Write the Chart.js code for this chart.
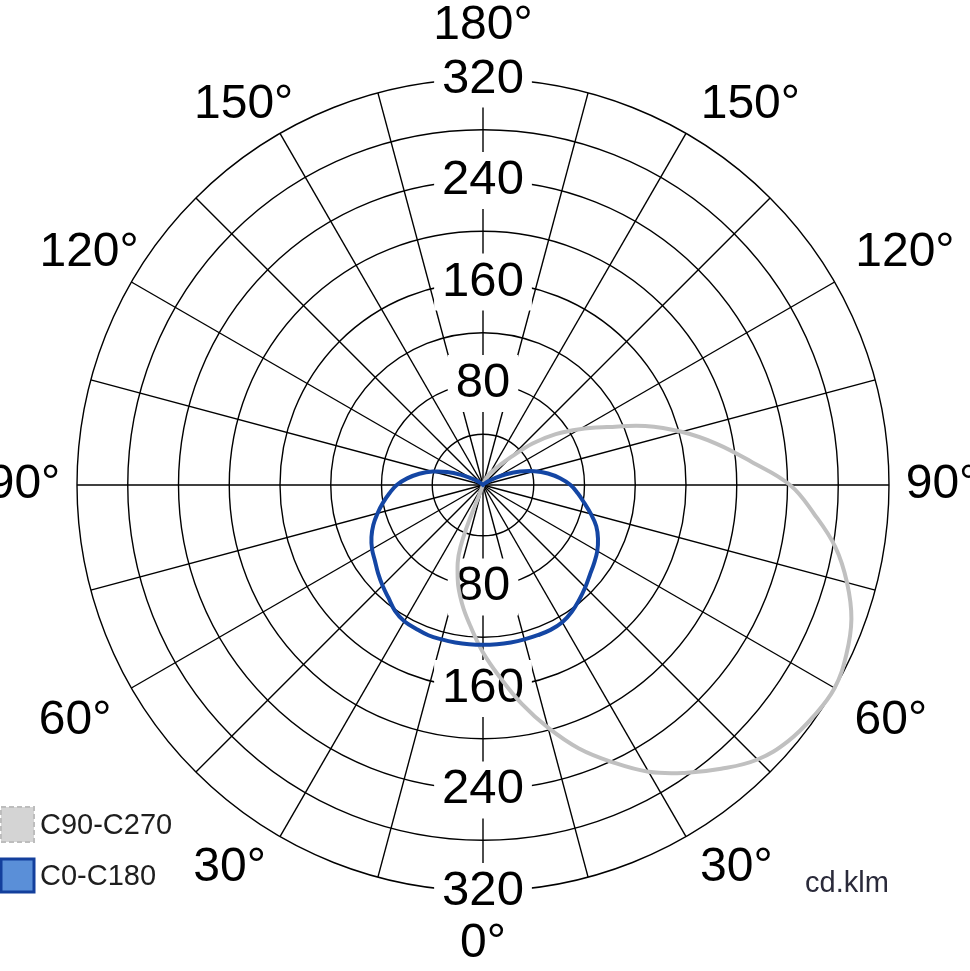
<!DOCTYPE html>
<html>
<head>
<meta charset="utf-8">
<title>Polar intensity diagram</title>
<script src="https://cdn.jsdelivr.net/npm/chart.js@4.4.1/dist/chart.umd.min.js"></script>
<style>
  html, body { margin: 0; padding: 0; background: #fff; }
  #polar { display: block; }
</style>
</head>
<body>
<canvas id="polar" width="970" height="971"></canvas>
<script>
// gamma angle (0 = straight down, 180 = straight up), 5 degree steps
var GAMMA = [0, 5, 10, 15, 20, 25, 30, 35, 40, 45, 50, 55, 60, 65, 70, 75, 80, 85, 90,
             95, 100, 105, 110, 115, 120, 125, 130, 135, 140, 145, 150, 155, 160, 165, 170, 175, 180];

// cd/klm, right half of the diagram
var C0 = [126, 126, 126, 126, 126, 126, 125, 122, 118, 114, 110, 107, 104, 100, 95, 88, 81, 75, 69,
          61, 52, 42, 31, 20, 11, 5, 2, 0, 0, 0, 0, 0, 0, 0, 0, 0, 0];
var C90 = [132, 152, 175, 198, 221, 241, 261, 277, 292, 306, 314, 318, 320, 316, 309, 297, 282, 262, 242,
           212, 187, 162, 136, 108, 88, 70, 51, 31, 20, 14, 10, 6, 3, 1, 0, 0, 0];

// cd/klm, left half of the diagram
var C180 = [126, 126, 126, 126, 126, 125, 124, 121, 116, 112, 108, 104, 101, 97, 92, 86, 80, 74, 68,
            60, 51, 41, 30, 19, 10, 5, 2, 0, 0, 0, 0, 0, 0, 0, 0, 0, 0];
var C270 = [132, 112, 95, 77, 52, 0, 0, 0, 0, 0, 0, 0, 0, 0, 0, 0, 0, 0, 0,
            0, 0, 0, 0, 0, 0, 0, 0, 0, 0, 0, 0, 0, 0, 0, 0, 0, 0];

var RING_LABELS = [80, 160, 240, 320];
var ANGLE_LABELS = [0, 30, 60, 90, 120, 150, 180];

// radar goes clockwise from the top: right half 180 -> 0, then left half 5 -> 175
function around(right, left) {
    var out = [];
    for (var i = right.length - 1; i >= 0; i--) out.push(right[i]);
    for (var j = 1; j < left.length - 1; j++) out.push(left[j]);
    return out;
}

var FONT = '"Liberation Sans", Arial, sans-serif';
Chart.defaults.font.family = FONT;

var polarText = {
    id: 'polarText',
    beforeDatasetsDraw: function(chart) {
        // ring values below the centre, mirrored from the scale's own ticks
        var r = chart.scales.r, ctx = chart.ctx;
        ctx.save();
        ctx.font = '49px ' + FONT;
        ctx.textAlign = 'center';
        ctx.textBaseline = 'middle';
        RING_LABELS.forEach(function(v) {
            var y = r.yCenter + r.getDistanceFromCenterForValue(v);
            var w = ctx.measureText(String(v)).width;
            ctx.fillStyle = '#fff';
            ctx.fillRect(r.xCenter - w / 2 - 8, y - 28, w + 16, 57);
            ctx.fillStyle = '#000';
            ctx.fillText(String(v), r.xCenter, y);
        });
        ctx.restore();
    },
    afterDraw: function(chart) {
        var r = chart.scales.r, ctx = chart.ctx;
        var labels = chart.data.labels;
        ctx.save();
        ctx.font = '48px ' + FONT;
        ctx.fillStyle = '#000';
        ctx.textAlign = 'center';
        ctx.textBaseline = 'middle';
        labels.forEach(function(g, i) {
            if (ANGLE_LABELS.indexOf(g) < 0) return;
            var a = r.getIndexAngle(i) - Math.PI / 2;
            // the 30/150 labels sit a little nearer the horizontal
            if (g === 30 || g === 150) {
                var toward = Math.cos(a) > 0 ? 1 : -1;
                a += (g === 30 ? -toward : toward) * 3.5 * Math.PI / 180;
            }
            var dist = r.drawingArea + 53 + (g === 60 || g === 120 ? 12 : 0);
            var x = r.xCenter + Math.cos(a) * dist;
            var y = r.yCenter + Math.sin(a) * dist;
            // upper row is set a bit to the right in the original
            if (g === 120 || g === 150) { x += 14; y += 3; }
            ctx.fillText(g + '\u00b0', x, y);
        });

        // legend
        ctx.setLineDash([5, 3]);
        ctx.fillStyle = '#d4d4d4';
        ctx.fillRect(1, 807, 33, 35);
        ctx.strokeStyle = '#bdbdbd';
        ctx.lineWidth = 2;
        ctx.strokeRect(1, 807, 33, 35);
        ctx.setLineDash([]);
        ctx.fillStyle = '#5a8fd8';
        ctx.fillRect(1, 859, 33, 33);
        ctx.strokeStyle = '#133f9c';
        ctx.lineWidth = 3;
        ctx.strokeRect(1, 859, 33, 33);

        ctx.font = '29px ' + FONT;
        ctx.fillStyle = '#1e1e1e';
        ctx.textAlign = 'left';
        ctx.fillText('C90-C270', 40, 826);
        ctx.fillText('C0-C180', 40, 877);
        ctx.fillStyle = '#2a2a3a';
        ctx.fillText('cd.klm', 805, 884);
        ctx.restore();
    }
};

var ctx = document.getElementById('polar').getContext('2d');
window.polarChart = new Chart(ctx, {
    type: 'radar',
    data: {
        labels: around(GAMMA, GAMMA),
        datasets: [{
                label: 'C90-C270',
                data: around(C90, C270),
                borderColor: '#c0c0c0',
                borderWidth: 4,
                fill: false,
                pointRadius: 0,
                tension: 0.4,
                order: 2
            },
            {
                label: 'C0-C180',
                data: around(C0, C180),
                borderColor: '#1446a4',
                borderWidth: 4,
                fill: false,
                pointRadius: 0,
                tension: 0.4,
                order: 1
            }
        ]
    },
    options: {
        responsive: false,
        animation: false,
        layout: {
            padding: { left: 48, right: 52, top: 50, bottom: 51 }
        },
        plugins: {
            legend: { display: false },
            tooltip: { enabled: false }
        },
        scales: {
            r: {
                min: 0,
                max: 320,
                beginAtZero: true,
                angleLines: {
                    color: function(c) {
                        return c.index % 3 === 0 ? '#000' : 'rgba(0,0,0,0)';
                    },
                    lineWidth: 1.4
                },
                grid: {
                    circular: true,
                    color: '#000',
                    lineWidth: 1.4
                },
                pointLabels: { display: false },
                ticks: {
                    stepSize: 40,
                    font: { size: 49 },
                    color: '#000',
                    backdropPadding: { x: 8, y: 4 },
                    backdropColor: function(c) {
                        return RING_LABELS.indexOf(c.tick.value) >= 0 ? '#fff' : 'rgba(0,0,0,0)';
                    },
                    callback: function(v) {
                        return RING_LABELS.indexOf(v) >= 0 ? String(v) : '';
                    }
                }
            }
        }
    },
    plugins: [polarText]
});
</script>
</body>
</html>
